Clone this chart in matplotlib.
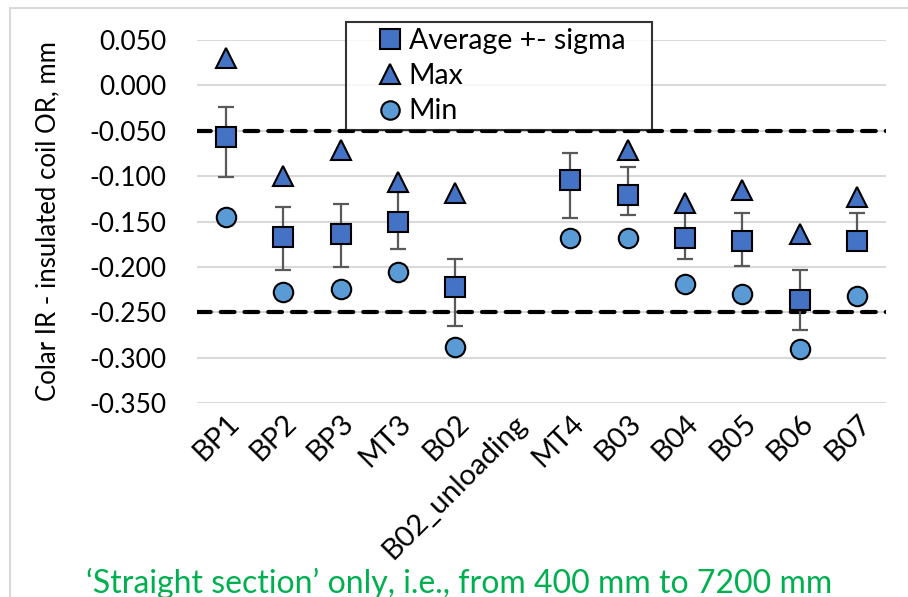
import numpy as np
import matplotlib.pyplot as plt
from matplotlib.patches import Rectangle

plt.rcParams['font.family'] = ['Lato', 'DejaVu Sans']

# data
names = ['BP1', 'BP2', 'BP3', 'MT3', 'B02', 'B02_unloading',
         'MT4', 'B03', 'B04', 'B05', 'B06', 'B07']
avg = [-0.0565, -0.167, -0.164, -0.150, -0.222, np.nan,
       -0.104, -0.121, -0.168, -0.171, -0.236, -0.171]
err_up = [0.033, 0.033, 0.033, 0.033, 0.031, np.nan,
          0.030, 0.031, 0.028, 0.030, 0.033, 0.030]
err_dn = [0.045, 0.036, 0.036, 0.030, 0.043, np.nan,
          0.042, 0.022, 0.023, 0.028, 0.034, 0.006]
vmax = [0.030, -0.100, -0.071, -0.107, -0.119, np.nan,
        np.nan, -0.071, -0.1295, -0.115, -0.164, -0.1225]
vmin = [-0.145, -0.228, -0.224, -0.206, -0.288, np.nan,
        -0.168, -0.168, -0.219, -0.230, -0.291, -0.232]
limits = [-0.05, -0.25]
yticks = np.round(np.arange(-0.35, 0.051, 0.05), 3)

W, H = 908, 597
fig = plt.figure(figsize=(W/100, H/100), dpi=100)
ax = fig.add_axes([197/W, 1-403/H, (886-197)/W, (403-40)/H])

# chart border
fig.patches.append(Rectangle((10/W, -0.05), 1.0, 1-8/H+0.05, transform=fig.transFigure,
                             fill=False, ec='#D9D9D9', lw=1.5))

x = np.arange(len(names))
dark = '#4472C4'
light = '#5B9BD5'

ax.errorbar(x, avg, yerr=[err_dn, err_up], fmt='none', ecolor='#595959', elinewidth=1.6,
            capsize=6, capthick=1.6, zorder=3)
ax.plot(x, avg, 's', ms=15, mfc=dark, mec='black', mew=1.5, ls='none',
        label='Average +- sigma', zorder=4)
ax.plot(x, vmax, '^', ms=15, mfc=dark, mec='black', mew=1.5, ls='none',
        label='Max', zorder=4)
ax.plot(x, vmin, 'o', ms=14, mfc=light, mec='black', mew=1.5, ls='none',
        label='Min', zorder=4)

for v in limits:
    ax.axhline(v, color='black', lw=3, ls=(0, (3.3, 2.4)), dash_capstyle='round', zorder=2)

ax.set_xlim(-0.5, len(names)-0.5)
ax.set_ylim(-0.35, 0.05)
ax.set_yticks(yticks)
ax.set_yticklabels(['%.3f' % t if t != 0 else '0.000' for t in yticks], fontsize=19)
ax.grid(axis='y', color='#D9D9D9', lw=1.5, zorder=0)
ax.set_axisbelow(True)
ax.tick_params(length=0)
ax.tick_params(axis='y', pad=22)
ax.tick_params(axis='x', pad=5)
for s in ax.spines.values():
    s.set_visible(False)

ax.set_xticks(x)
ax.set_xticklabels(names, rotation=45, ha='right', rotation_mode='anchor', fontsize=21)
ax.set_ylabel('Colar IR - insulated coil OR, mm', fontsize=18.5)
ax.yaxis.set_label_coords(-0.198, 0.5)

# legend box pinned to the reference frame
lx0 = (346-197)/(886-197)
lw_ = (652-346)/(886-197)
ly1 = 1+18/363
lh = (129-22)/363
leg = ax.legend(loc='upper left', bbox_to_anchor=(lx0, ly1-lh, lw_, lh), mode='expand',
                fontsize=20.5, frameon=True, fancybox=False, edgecolor='black',
                borderpad=0.2, labelspacing=0.33, handletextpad=-0.7, handlelength=2.7,
                borderaxespad=0, markerscale=0.95)
leg.get_frame().set_linewidth(1.5)
leg.set_zorder(5)

fig.text(459/W, 1-583/H, '\u2018Straight section\u2019 only, i.e., from 400 mm to 7200 mm',
         color='#00B050', fontsize=23, ha='center', va='center')

fig.savefig('out.png', dpi=100)
